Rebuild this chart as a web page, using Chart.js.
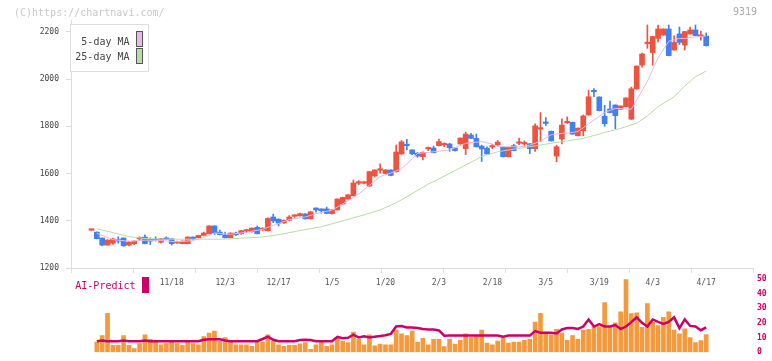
<!DOCTYPE html>
<html>
<head>
<meta charset="utf-8">
<title>9319</title>
<script src="https://cdn.jsdelivr.net/npm/chart.js@4.4.1/dist/chart.umd.min.js"></script>
<style>
    html, body { margin: 0; padding: 0; background: #fff; }
    #wrap { position: relative; width: 772px; height: 361px; overflow: hidden; }
    #price-chart { position: absolute; left: 0; top: 0; }
    #volume-chart { position: absolute; left: 0; top: 270px; }
</style>
</head>
<body>
<div id="wrap">
    <canvas id="price-chart" width="772" height="292"></canvas>
    <canvas id="volume-chart" width="772" height="91"></canvas>
</div>
<script>
// Daily candles, 10/27 .. 4/17 (index 0 .. 115)
const openPrices = [
    1360, 1352, 1327, 1297, 1305, 1320, 1327, 1297, 1303, 1323,
    1331, 1321, 1321, 1309, 1323, 1323, 1306, 1303, 1303, 1331,
    1328, 1338, 1345, 1378, 1352, 1340, 1328, 1348, 1345, 1356,
    1354, 1372, 1361, 1358, 1416, 1407, 1391, 1402, 1419, 1421,
    1429, 1408, 1454, 1450, 1450, 1430, 1446, 1471, 1492, 1506,
    1559, 1559, 1547, 1590, 1614, 1600, 1615, 1608, 1683, 1722,
    1700, 1686, 1671, 1704, 1708, 1718, 1721, 1725, 1708, 1725,
    1705, 1763, 1749, 1716, 1707, 1712, 1721, 1711, 1671, 1718,
    1728, 1725, 1726, 1705, 1788, 1816, 1779, 1674, 1746, 1815,
    1817, 1760, 1781, 1848, 1950, 1924, 1843, 1873, 1890, 1872,
    1883, 1830, 1958, 2059, 2150, 2112, 2172, 2186, 2212, 2123,
    2191, 2144, 2191, 2208, 2180, 2182
];
const highPrices = [
    1361, 1353, 1327, 1320, 1327, 1332, 1328, 1314, 1315, 1332,
    1340, 1328, 1332, 1326, 1332, 1324, 1314, 1315, 1332, 1332,
    1339, 1352, 1380, 1379, 1361, 1352, 1349, 1352, 1360, 1364,
    1370, 1378, 1370, 1412, 1428, 1408, 1404, 1422, 1425, 1433,
    1430, 1439, 1455, 1451, 1458, 1447, 1493, 1500, 1511, 1573,
    1570, 1566, 1610, 1616, 1641, 1617, 1616, 1720, 1740, 1745,
    1701, 1689, 1692, 1712, 1716, 1746, 1730, 1728, 1709, 1751,
    1775, 1770, 1767, 1720, 1713, 1723, 1740, 1712, 1712, 1724,
    1750, 1738, 1727, 1810, 1858, 1837, 1780, 1720, 1832, 1840,
    1818, 1793, 1848, 1953, 1960, 1925, 1889, 1907, 1891, 1887,
    1921, 1966, 2056, 2110, 2229, 2181, 2229, 2213, 2229, 2183,
    2220, 2202, 2220, 2229, 2203, 2195
];
const lowPrices = [
    1359, 1323, 1294, 1296, 1300, 1305, 1292, 1293, 1299, 1318,
    1302, 1299, 1314, 1305, 1320, 1297, 1303, 1302, 1302, 1318,
    1327, 1336, 1344, 1342, 1340, 1327, 1327, 1337, 1342, 1350,
    1352, 1344, 1359, 1356, 1392, 1378, 1389, 1400, 1414, 1419,
    1407, 1407, 1436, 1432, 1430, 1428, 1445, 1470, 1491, 1505,
    1553, 1556, 1545, 1585, 1602, 1598, 1590, 1606, 1681, 1700,
    1680, 1669, 1658, 1697, 1687, 1717, 1714, 1694, 1695, 1724,
    1680, 1748, 1712, 1651, 1682, 1705, 1719, 1670, 1670, 1696,
    1722, 1715, 1684, 1694, 1735, 1803, 1737, 1650, 1725, 1812,
    1766, 1759, 1760, 1846, 1925, 1865, 1800, 1857, 1790, 1871,
    1882, 1829, 1957, 2050, 2130, 2059, 2157, 2185, 2098, 2122,
    2146, 2123, 2190, 2183, 2165, 2140
];
const closePrices = [
    1361, 1324, 1297, 1318, 1323, 1314, 1294, 1310, 1314, 1327,
    1303, 1314, 1316, 1324, 1321, 1303, 1308, 1314, 1331, 1322,
    1338, 1348, 1378, 1348, 1341, 1328, 1348, 1341, 1358, 1358,
    1369, 1345, 1369, 1410, 1399, 1390, 1402, 1416, 1421, 1430,
    1408, 1438, 1446, 1443, 1431, 1446, 1492, 1499, 1510, 1560,
    1561, 1561, 1608, 1615, 1616, 1615, 1592, 1691, 1734, 1718,
    1683, 1674, 1690, 1707, 1688, 1735, 1723, 1709, 1697, 1750,
    1767, 1749, 1713, 1704, 1683, 1714, 1733, 1671, 1711, 1697,
    1730, 1727, 1705, 1802, 1793, 1812, 1738, 1713, 1805, 1818,
    1767, 1792, 1844, 1925, 1946, 1866, 1811, 1858, 1845, 1886,
    1920, 1959, 2055, 2106, 2152, 2180, 2212, 2212, 2099, 2155,
    2155, 2201, 2208, 2184, 2187, 2141
];

// Moving averages (candle index -> price)
const ma5Index = [1, 4, 7, 10, 13, 16, 19, 21, 23, 26, 29, 32, 34, 37, 40, 42, 45, 46, 48, 50,
    52, 54, 56, 58, 60, 61, 64, 67, 70, 73, 75, 76, 80, 82, 84, 86, 88, 90, 91, 93,
    96, 98, 101, 102, 104, 106, 108, 110, 111, 113, 115];
const ma5Values = [1347, 1320, 1313, 1318, 1316, 1311, 1316, 1329, 1348, 1343, 1351, 1364, 1380, 1405, 1416, 1430, 1445, 1458, 1485, 1514,
    1550, 1587, 1602, 1620, 1662, 1685, 1692, 1700, 1728, 1735, 1725, 1714, 1713, 1720, 1737, 1764, 1770, 1774, 1778, 1810,
    1858, 1876, 1872, 1911, 1990, 2090, 2160, 2172, 2172, 2179, 2182];
const ma25Index = [1, 4, 7, 10, 13, 19, 25, 28, 32, 35, 38, 43, 45, 51, 54, 57, 60, 63, 65, 70,
    73, 76, 80, 83, 86, 89, 92, 95, 96, 99, 102, 104, 106, 109, 111, 113, 115];
const ma25Values = [1366, 1350, 1333, 1325, 1322, 1322, 1322, 1326, 1331, 1341, 1354, 1375, 1387, 1425, 1446, 1476, 1515, 1555, 1577, 1636,
    1672, 1692, 1707, 1717, 1728, 1738, 1749, 1767, 1774, 1791, 1813, 1844, 1883, 1925, 1971, 2010, 2034];

// Lower panel: volume bars and the AI-Predict line (same 0-50 scale)
const volumes = [null,
    6.9, 11.25, 26.5, 4.6, 4.6, 11.25, 4.6, 2.5, 5.8, 11.9,
    8.75, 6.9, 5, 5.8, 6.9, 5.8, 4.6, 6.9, 5.8, 5,
    10.6, 13.1, 14.4, 7.5, 10, 6.9, 5, 5, 5, 4,
    6.9, 6.9, 11.9, 7.5, 5, 4, 4.6, 4.6, 5.7, 6.5,
    2, 5, 7.1, 4, 5, 9.6, 7.5, 6.5, 13.75, 8.75,
    5, 11.9, 4.4, 5.6, 5, 5, 15, 12.5, 11.25, 14.4,
    6.9, 9.4, 5, 8.75, 8.75, 3.75, 8.75, 5.6, 8.1, 12.5,
    10, 10.6, 15, 6.25, 5, 7.5, 10, 6.25, 6.9, 6.9,
    8.1, 8.75, 20.6, 26.5, 13.75, 11.9, 15.6, 13.1, 8.1, 11.25,
    8.75, 15, 15.6, 17.5, 17.5, 33.75, 16.9, 20, 27.5, 49.4,
    26.25, 26.9, 16.9, 33.1, 20.6, 18.1, 23.75, 27.5, 15, 12.5,
    16, 10, 6.5, 8, 12
];
const aiPredict = [null,
    7.5, 8, 7.5, 7.5, 7.5, 8, 7.5, 7.5, 7.5, 8,
    7.5, 7.5, 7.5, 7.5, 7.5, 7.5, 7.5, 7.5, 7.5, 7.5,
    8.5, 8.75, 8.75, 8.75, 8, 7.5, 7.5, 7.5, 7.5, 7.5,
    7.5, 9, 10.6, 8.5, 7.5, 7.5, 7.5, 7.5, 8.3, 8.5,
    8.3, 7.5, 7.5, 7.5, 7.5, 10.5, 9.5, 9.8, 12, 10,
    10.8, 10, 10.6, 11, 11.5, 12.5, 17.5, 17.8, 16.8, 16.8,
    16.5, 15.8, 15.5, 15.4, 14.8, 11.25, 11.3, 11.3, 11.3, 11.3,
    11.3, 11.3, 11.3, 11.3, 11.3, 11.3, 10.5, 11.3, 11.3, 11.3,
    11.3, 11.3, 14.4, 13.3, 13.3, 13.3, 12.8, 15.5, 16.4, 16.4,
    15.8, 17.5, 22.3, 17.5, 19.2, 17.5, 17.5, 18.5, 15.8, 17.5,
    20.5, 23.75, 20, 17.5, 22.3, 20.6, 19.2, 20.6, 23.75, 16.4,
    22.3, 17.9, 17.5, 15, 16.9
];

// Axis labels
const dateTickIndex = [15, 25, 35, 45, 55, 65, 75, 85, 95, 105, 115];
const dateLabels = ['11/18', '12/3', '12/17', '1/5', '1/20', '2/3', '2/18', '3/5', '3/19', '4/3', '4/17'];
const priceTicks = [1200, 1400, 1600, 1800, 2000, 2200];

// Renk ve yerleşim ayarları
const UP = 'rgb(240,82,64)';
const DOWN = 'rgb(66,128,240)';
const MA5_COLOR = 'rgb(232,184,232)';
const MA25_COLOR = 'rgb(184,220,166)';
const VOL_COLOR = 'rgb(243,154,62)';
const AI_COLOR = '#cc0066';
const AXIS_COLOR = '#dddddd';
const MONO = '"DejaVu Sans Mono", "Liberation Mono", monospace';
const X_MIN = -3.835;
const X_MAX = 123.76;

Chart.defaults.font.family = MONO;

const candleIdx = closePrices.map((_, i) => i);
const candleColor = ctx => closePrices[ctx.dataIndex] >= openPrices[ctx.dataIndex] ? UP : DOWN;
const isDateTick = v => dateTickIndex.indexOf(v) >= 0;

// Axis tick marks are evenly spaced, separate from the date labels
function xTicks() {
    const marks = [];
    for (let k = 0; k <= 11; k++) marks.push(X_MIN + k * (X_MAX - X_MIN) / 11);
    return marks.concat(dateTickIndex).sort((a, b) => a - b).map(v => ({ value: v }));
}

// Legend box, copyright and code number
const priceOverlay = {
    id: 'priceOverlay',
    afterDraw(chart) {
        const ctx = chart.ctx;
        ctx.save();
        ctx.font = '10px ' + MONO;
        ctx.textBaseline = 'middle';
        ctx.fillStyle = '#c8c8c8';
        ctx.textAlign = 'left';
        ctx.fillText('(C)https://chartnavi.com/', 14, 13);
        ctx.fillStyle = '#aaaaaa';
        ctx.textAlign = 'right';
        ctx.fillText('9319', 757, 12);

        ctx.fillStyle = '#fff';
        ctx.fillRect(70.5, 24.5, 78, 47);
        ctx.strokeStyle = AXIS_COLOR;
        ctx.lineWidth = 1;
        ctx.strokeRect(70.5, 24.5, 78, 47);

        ctx.fillStyle = '#444';
        ctx.fillText('5-day MA', 129.5, 42);
        ctx.fillText('25-day MA', 129.5, 57.5);

        ctx.strokeStyle = '#555';
        ctx.fillStyle = MA5_COLOR;
        ctx.fillRect(136.5, 31.5, 6, 15);
        ctx.strokeRect(136.5, 31.5, 6, 15);
        ctx.fillStyle = MA25_COLOR;
        ctx.fillRect(136.5, 48.5, 6, 15);
        ctx.strokeRect(136.5, 48.5, 6, 15);
        ctx.restore();
    }
};

const volumeOverlay = {
    id: 'volumeOverlay',
    afterDraw(chart) {
        const ctx = chart.ctx;
        ctx.save();
        ctx.font = '10px ' + MONO;
        ctx.textBaseline = 'middle';
        ctx.textAlign = 'right';
        ctx.fillStyle = AI_COLOR;
        ctx.fillText('AI-Predict', 135.5, 16);
        ctx.fillRect(142, 7, 7, 16);
        ctx.restore();
    }
};

function initPriceChart() {
    new Chart(document.getElementById('price-chart'), {
        type: 'bar',
        data: {
            datasets: [{
                type: 'line',
                label: '5-day MA',
                data: ma5Index.map((x, k) => ({ x: x, y: ma5Values[k] })),
                borderColor: MA5_COLOR,
                borderWidth: 1,
                pointRadius: 0,
                order: 0
            }, {
                type: 'line',
                label: '25-day MA',
                data: ma25Index.map((x, k) => ({ x: x, y: ma25Values[k] })),
                borderColor: MA25_COLOR,
                borderWidth: 1,
                pointRadius: 0,
                order: 0
            }, {
                label: 'body',
                data: candleIdx.map(i => ({ x: i, y: [openPrices[i], closePrices[i]] })),
                backgroundColor: candleColor,
                barThickness: 5,
                minBarLength: 1.5,
                grouped: false,
                order: 1
            }, {
                label: 'wick',
                data: candleIdx.map(i => ({ x: i, y: [lowPrices[i], highPrices[i]] })),
                backgroundColor: candleColor,
                barThickness: 1,
                grouped: false,
                order: 2
            }]
        },
        options: {
            responsive: false,
            animation: false,
            events: [],
            layout: { padding: { left: 0, right: 19, top: 20, bottom: 0 } },
            plugins: { legend: { display: false }, tooltip: { enabled: false } },
            scales: {
                x: {
                    type: 'linear',
                    min: X_MIN,
                    max: X_MAX,
                    offset: false,
                    afterBuildTicks: axis => { axis.ticks = xTicks(); },
                    afterFit: s => { s.height = 24; },
                    ticks: {
                        autoSkip: false,
                        maxRotation: 0,
                        padding: 5,
                        color: '#555',
                        font: { size: 8 },
                        callback: v => isDateTick(v) ? dateLabels[dateTickIndex.indexOf(v)] : ''
                    },
                    grid: {
                        offset: false,
                        drawOnChartArea: false,
                        tickLength: 5,
                        tickColor: c => (c.tick && isDateTick(c.tick.value)) ? 'rgba(0,0,0,0)' : AXIS_COLOR
                    },
                    border: { color: AXIS_COLOR }
                },
                y: {
                    min: 1200,
                    max: 2250,
                    afterBuildTicks: axis => { axis.ticks = priceTicks.map(v => ({ value: v })); },
                    afterFit: s => { s.width = 71; },
                    ticks: { padding: 7, color: '#444', font: { size: 8 }, callback: v => String(v) },
                    grid: { drawOnChartArea: false, tickLength: 5, tickColor: AXIS_COLOR },
                    border: { color: AXIS_COLOR }
                }
            }
        },
        plugins: [priceOverlay]
    });
}

function initVolumeChart() {
    new Chart(document.getElementById('volume-chart'), {
        type: 'bar',
        data: {
            datasets: [{
                type: 'line',
                label: 'AI-Predict',
                data: aiPredict.map((v, i) => ({ x: i, y: v })),
                borderColor: AI_COLOR,
                borderWidth: 2.5,
                pointRadius: 0,
                order: 0
            }, {
                label: 'Volume',
                data: volumes.map((v, i) => ({ x: i, y: v })),
                backgroundColor: VOL_COLOR,
                barThickness: 4,
                grouped: false,
                order: 1
            }]
        },
        options: {
            responsive: false,
            animation: false,
            events: [],
            layout: { padding: { left: 71, right: 0, top: 8, bottom: 3 } },
            plugins: { legend: { display: false }, tooltip: { enabled: false } },
            scales: {
                x: { type: 'linear', min: X_MIN, max: X_MAX, offset: false, display: false },
                y: {
                    position: 'right',
                    min: 0,
                    max: 50,
                    afterFit: s => { s.width = 19; },
                    ticks: { stepSize: 10, padding: 4, color: AI_COLOR, font: { size: 8, weight: 'bold' } },
                    grid: { display: false, drawTicks: false },
                    border: { display: false }
                }
            }
        },
        plugins: [volumeOverlay]
    });
}

document.addEventListener('DOMContentLoaded', () => {
    initPriceChart();
    initVolumeChart();
});
</script>
</body>
</html>
